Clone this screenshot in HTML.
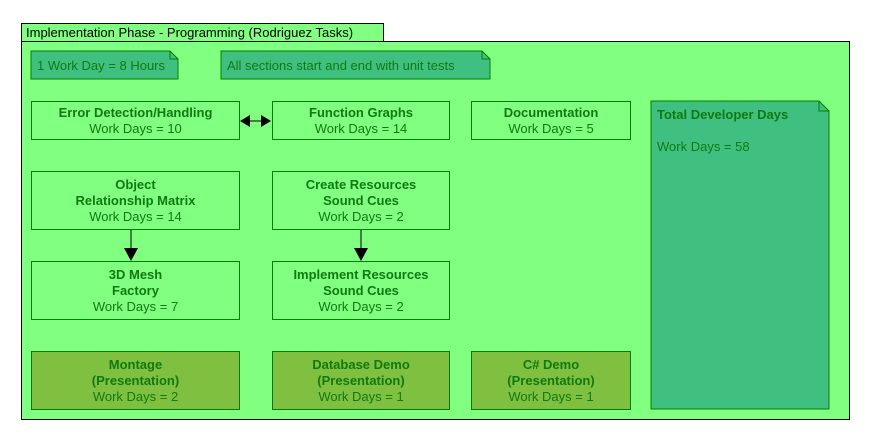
<!DOCTYPE html>
<html><head><style>
body{margin:0;width:870px;height:440px;background:#fff;position:relative;font-family:"Liberation Sans",sans-serif;overflow:hidden}
.a{position:absolute;box-sizing:border-box}
.n{border:1px solid #008000;background:#80ff80;color:#107a10;font-size:13px;text-align:center;display:flex;flex-direction:column;justify-content:center;line-height:16px}
.n b{font-weight:bold}
.p{background:#80c040}
</style></head><body>
<div class="a" style="left:21px;top:23px;width:363px;height:19px;border:1px solid #000;background:#80ff80;font-size:13px;padding:2px 4px;line-height:14px">Implementation Phase - Programming (Rodriguez Tasks)</div>
<div class="a" style="left:21px;top:41px;width:829px;height:379px;border:1px solid #000;background:#80ff80"></div>
<svg class="a" style="left:0;top:0" width="870" height="440">
<polygon points="31,51 170,51 178,59 178,79 31,79" fill="#40c080" stroke="#008000"/>
<polyline points="170,51 170,59 178,59" fill="none" stroke="#008000"/>
<polygon points="221,51 482,51 490,59 490,79 221,79" fill="#40c080" stroke="#008000"/>
<polyline points="482,51 482,59 490,59" fill="none" stroke="#008000"/>
<polygon points="651,101 819,101 829,111 829,409 651,409" fill="#40c080" stroke="#008000"/>
<polyline points="819,101 819,111 829,111" fill="none" stroke="#008000"/>
<line x1="248" y1="121" x2="263" y2="121" stroke="#000"/>
<polygon points="240,121 250,115 250,127" fill="#000"/>
<polygon points="271,121 261,115 261,127" fill="#000"/>
<line x1="131" y1="229" x2="131" y2="250" stroke="#000"/>
<polygon points="124,248 138,248 131,261" fill="#000"/>
<line x1="361" y1="229" x2="361" y2="250" stroke="#000"/>
<polygon points="354,248 368,248 361,261" fill="#000"/>
</svg>
<div class="a" style="left:37px;top:58px;font-size:13px;color:#107a10">1 Work Day = 8 Hours</div>
<div class="a" style="left:227px;top:58px;font-size:13px;color:#107a10">All sections start and end with unit tests</div>
<div class="a" style="left:657px;top:107px;font-size:13px;color:#107a10;font-weight:bold">Total Developer Days</div>
<div class="a" style="left:657px;top:139px;font-size:13px;color:#107a10">Work Days = 58</div>
<div class="a n" style="left:31px;top:101px;width:209px;height:39px"><b>Error Detection/Handling</b>Work Days = 10</div>
<div class="a n" style="left:272px;top:101px;width:178px;height:39px"><b>Function Graphs</b>Work Days = 14</div>
<div class="a n" style="left:471px;top:101px;width:160px;height:39px"><b>Documentation</b>Work Days = 5</div>
<div class="a n" style="left:31px;top:171px;width:209px;height:59px"><b>Object</b><b>Relationship Matrix</b>Work Days = 14</div>
<div class="a n" style="left:272px;top:171px;width:178px;height:59px"><b>Create Resources</b><b>Sound Cues</b>Work Days = 2</div>
<div class="a n" style="left:31px;top:261px;width:209px;height:59px"><b>3D Mesh</b><b>Factory</b>Work Days = 7</div>
<div class="a n" style="left:272px;top:261px;width:178px;height:59px"><b>Implement Resources</b><b>Sound Cues</b>Work Days = 2</div>
<div class="a n p" style="left:31px;top:351px;width:209px;height:59px"><b>Montage</b><b>(Presentation)</b>Work Days = 2</div>
<div class="a n p" style="left:272px;top:351px;width:178px;height:59px"><b>Database Demo</b><b>(Presentation)</b>Work Days = 1</div>
<div class="a n p" style="left:471px;top:351px;width:160px;height:59px"><b>C# Demo</b><b>(Presentation)</b>Work Days = 1</div>
</body></html>
